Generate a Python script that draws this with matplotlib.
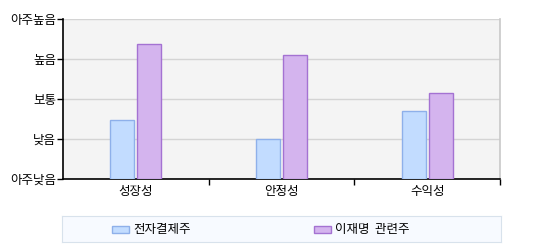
import numpy as np
import matplotlib
matplotlib.use("Agg")
import matplotlib.pyplot as plt
from matplotlib.patches import Rectangle

plt.rcParams['font.family'] = ['Noto Sans CJK KR', 'DejaVu Sans']

categories = ["성장성", "안정성", "수익성"]
series_names = ["전자결제주", "이재명  관련주"]
payment_vals = [1.48, 1.0, 1.7]
leejm_vals = [3.38, 3.1, 2.15]
level_labels = ["아주낮음", "낮음", "보통", "높음", "아주높음"]

fills = ["#c2dcff", "#d4b4ee"]
edges = ["#8eb0ea", "#a472d2"]

W, H = 544, 250
fig = plt.figure(figsize=(W / 100, H / 100), dpi=100)

# main plot area
ax = fig.add_axes([63 / W, (H - 179) / H, 437 / W, 160 / H])
ax.set_facecolor("#f4f4f4")

x = np.arange(len(categories))
bw = 0.165
gap = 0.02
ax.bar(x - bw / 2 - gap / 2, payment_vals, bw, color=fills[0], edgecolor=edges[0],
       linewidth=1, zorder=3)
ax.bar(x + bw / 2 + gap / 2, leejm_vals, bw, color=fills[1], edgecolor=edges[1],
       linewidth=1, zorder=3)

ax.set_xlim(-0.5, len(categories) - 0.5)
ax.set_ylim(0, 4)
ax.set_yticks(range(len(level_labels)))
ax.set_yticklabels(level_labels, fontsize=9)
ax.set_xticks(x)
ax.set_xticklabels(categories, fontsize=9)
ax.set_xticks(np.arange(0.5, len(categories), 1), minor=True)
ax.tick_params(axis="x", which="major", length=0, pad=4)
ax.tick_params(axis="x", which="minor", length=4, width=1, color="black", direction="out")
ax.tick_params(axis="y", length=4, width=1, color="black", pad=1)
ax.grid(axis="y", color="#d4d4d4", linewidth=1, zorder=0)

for s in ["left", "bottom"]:
    ax.spines[s].set_color("black")
    ax.spines[s].set_linewidth(1.2)
ax.spines["right"].set_color("#c8c8c8")
ax.spines["right"].set_linewidth(1.2)
ax.spines["top"].set_visible(False)

# legend box
lax = fig.add_axes([62 / W, (H - 242) / H, 439 / W, 26 / H])
lax.set_facecolor("#f7faff")
lax.set_xticks([])
lax.set_yticks([])
for s in lax.spines.values():
    s.set_color("#d8e2ec")
lax.set_xlim(0, 439)
lax.set_ylim(0, 26)
for i, (name, fc, ec) in enumerate(zip(series_names, fills, edges)):
    px = 50 + i * 202
    lax.add_patch(Rectangle((px, 9), 17, 7, facecolor=fc, edgecolor=ec, linewidth=1))
    lax.text(px + 21, 12.5, name, fontsize=9, va="center", ha="left")

fig.savefig("out.png", dpi=100)
